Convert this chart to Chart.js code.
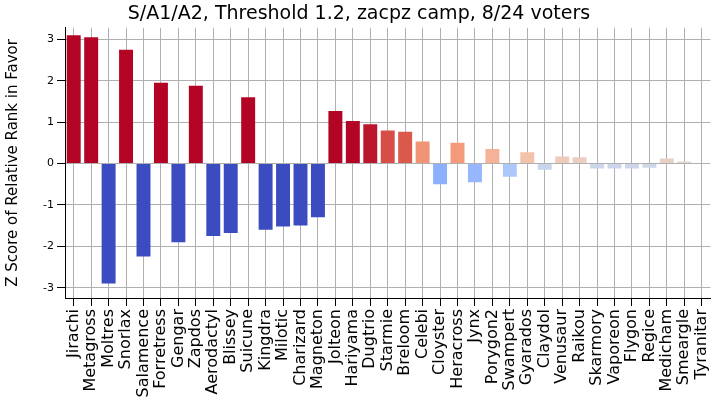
<!DOCTYPE html>
<html><head><meta charset="utf-8">
<script src="https://cdn.jsdelivr.net/npm/chart.js@4"></script>
<style>body{margin:0;background:#fff}</style>
</head><body>
<canvas id="c" width="724" height="401"></canvas>
<script>
const names = ["Jirachi","Metagross","Moltres","Snorlax","Salamence","Forretress","Gengar","Zapdos","Aerodactyl","Blissey","Suicune","Kingdra","Milotic","Charizard","Magneton","Jolteon","Hariyama","Dugtrio","Starmie","Breloom","Celebi","Cloyster","Heracross","Jynx","Porygon2","Swampert","Gyarados","Claydol","Venusaur","Raikou","Skarmory","Vaporeon","Flygon","Regice","Medicham","Smeargle","Tyranitar"];
const zScores = [3.1,3.05,-2.9,2.75,-2.25,1.95,-1.9,1.88,-1.75,-1.68,1.6,-1.6,-1.52,-1.5,-1.3,1.27,1.03,0.95,0.8,0.77,0.53,-0.5,0.5,-0.45,0.35,-0.32,0.27,-0.15,0.17,0.15,-0.12,-0.12,-0.12,-0.1,0.12,0.05,0];
const yTicks = [-3,-2,-1,0,1,2,3];

// approximate coolwarm colormap, value clipped to [-1, 1]
const cw = [[59,76,192],[98,130,234],[141,176,254],[184,208,249],[221,220,220],[244,196,173],[244,154,123],[222,96,77],[180,4,38]];
function coolwarm(v) {
  let t = (Math.max(-1, Math.min(1, v)) + 1) / 2 * (cw.length - 1);
  let i = Math.min(Math.floor(t), cw.length - 2), f = t - i;
  let c = cw[i].map((a, k) => Math.round(a + (cw[i + 1][k] - a) * f));
  return "rgb(" + c.join(",") + ")";
}

Chart.defaults.font.family = "DejaVu Sans";
Chart.defaults.color = "#000";

new Chart(document.getElementById("c"), {
  type: "bar",
  data: {
    labels: names,
    datasets: [{
      data: zScores,
      backgroundColor: zScores.map(coolwarm),
      barPercentage: 0.8,
      categoryPercentage: 1
    }]
  },
  options: {
    responsive: false,
    animation: false,
    layout: { padding: { top: 0, right: 6, left: 0, bottom: 0 } },
    plugins: {
      legend: { display: false },
      tooltip: { enabled: false },
      title: { display: true, text: "S/A1/A2, Threshold 1.2, zacpz camp, 8/24 voters", font: { size: 19, weight: "normal" }, padding: { top: 3, bottom: 2 } }
    },
    scales: {
      x: {
        afterFit: ax => { ax.height = 103; },
        grid: { offset: false, color: "#b0b0b0", tickColor: "#000" },
        border: { color: "#000" },
        ticks: { minRotation: 90, maxRotation: 90, autoSkip: false, font: { size: 16 } }
      },
      y: {
        min: -3.25, max: 3.28,
        afterFit: ax => { ax.width = 65; },
        afterBuildTicks: ax => { ax.ticks = yTicks.map(v => ({ value: v })); },
        grid: { color: "#b0b0b0", tickColor: "#000" },
        border: { color: "#000" },
        ticks: { font: { size: 11 } },
        title: { display: true, text: "Z Score of Relative Rank in Favor", font: { size: 15 } }
      }
    }
  }
});
</script>
</body></html>
